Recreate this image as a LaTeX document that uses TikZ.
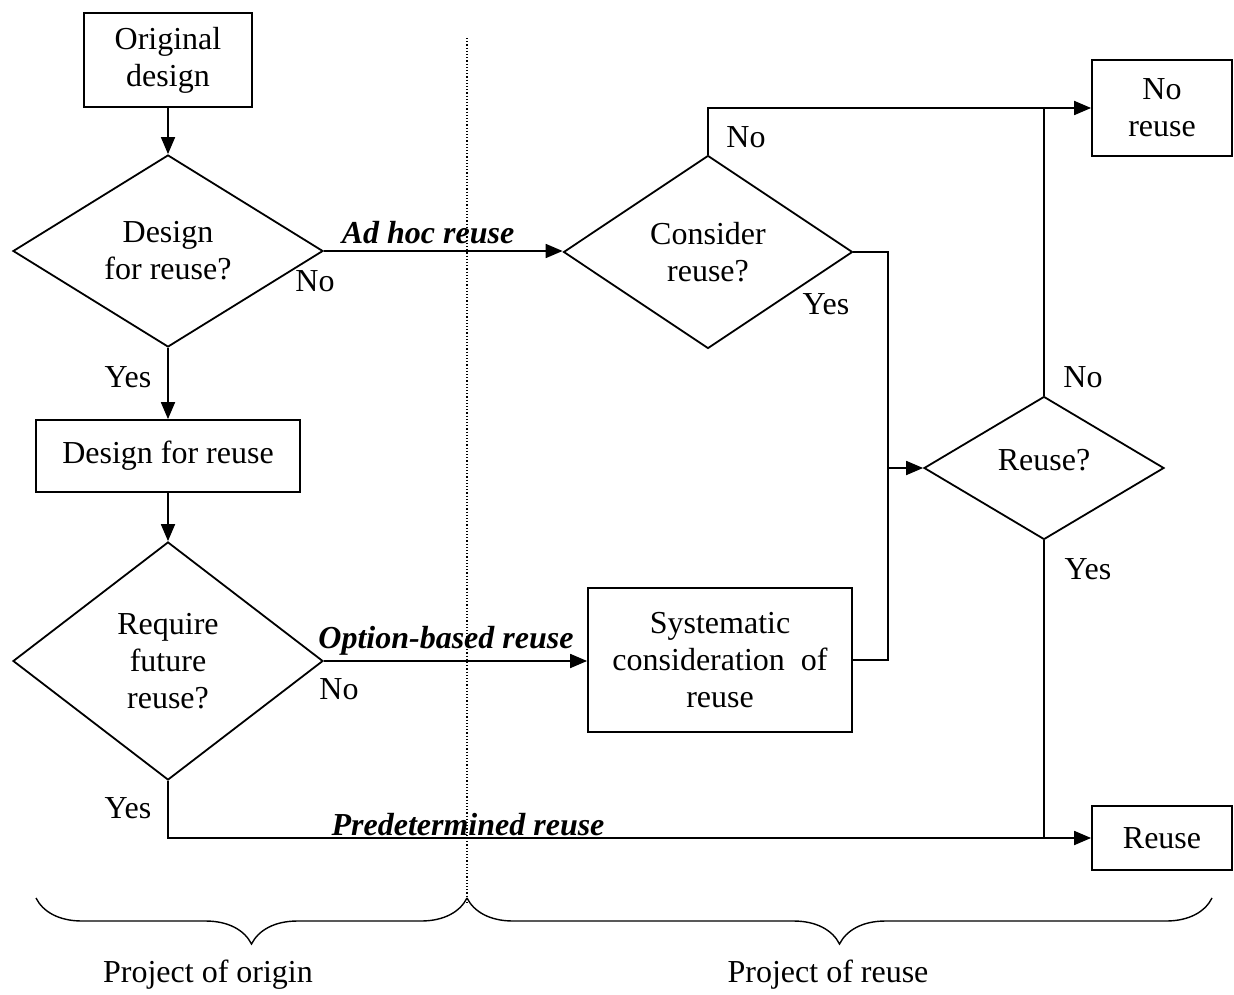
\documentclass[tikz,border=0pt]{standalone}
\usepackage{fontspec}
\setmainfont{Liberation Serif}
\usetikzlibrary{shapes.geometric,arrows.meta,decorations.pathreplacing}
\begin{document}
\begin{tikzpicture}[x=0.5pt,y=-0.5pt,
  font=\fontsize{16}{18.5}\selectfont,
  box/.style={draw,line width=0.9pt,rectangle,inner sep=0pt,align=center},
  dec/.style={draw,line width=0.9pt,diamond,inner sep=0pt,align=center},
  conn/.style={line width=0.9pt},
  arr/.style={conn,-{Triangle[length=8.5pt,width=7pt]}},
  lbl/.style={inner sep=0pt},
  flow/.style={lbl,font=\fontsize{16}{18}\selectfont\bfseries\itshape},
  brc/.style={line width=0.7pt,decorate,decoration={brace,amplitude=23pt,aspect=0.5}}]
\useasboundingbox[fill=white] (0,0) rectangle (1234,994);

% nodes
\node[box,minimum width=84pt,minimum height=47pt] (orig) at (168,60) {Original\\design};
\node[dec,minimum width=155pt,minimum height=96pt] (d1) at (168,251) {Design\\for reuse?};
\node[box,minimum width=132pt,minimum height=36pt] (dfr) at (168,456) {Design for reuse};
\node[dec,minimum width=155pt,minimum height=119pt] (d2) at (168,661) {Require\\future\\reuse?};
\node[dec,minimum width=144.5pt,minimum height=96.5pt] (cons) at (708,252) {Consider\\reuse?};
\node[box,minimum width=132pt,minimum height=72pt] (sys) at (720,660) {Systematic\\consideration\ \ of\\reuse};
\node[dec,minimum width=120pt,minimum height=71.5pt] (rq) at (1044,468) {\smash{\raisebox{-1pt}{Reuse?}}};
\node[box,minimum width=70pt,minimum height=48pt] (nor) at (1162,108) {No\\reuse};
\node[box,minimum width=70pt,minimum height=32pt] (reu) at (1162,838) {Reuse};

% separator
\coordinate (septop) at (467,38);
\coordinate (sepbot) at (467,905);
\draw[line width=0.6pt,densely dotted] (septop) -- (sepbot);

% connectors
\draw[arr] (orig) -- (d1);
\draw[arr] (d1) -- (dfr);
\draw[arr] (dfr) -- (d2);
\draw[arr] (d1.east) -- (d1.east -| cons.west);
\draw[arr] (d2.east) -- (d2.east -| sys.west);
\draw[arr] (d2.south) |- (reu.west);
\draw[arr] (cons.north) |- (nor.west);
\coordinate (j) at (888,468);
\draw[conn] (cons.east) -| (j);
\draw[conn] (sys.east) -| (j);
\draw[arr] (j) -- (rq.west);
\draw[conn] (rq.north) -- (rq.north |- nor.west);
\draw[conn] (rq.south) -- (rq.south |- reu.west);

% labels
\node[flow] (l1) at (428,233) {Ad hoc reuse};
\node[lbl] (n1) at (315,281) {No};
\node[lbl] (y1) at (128,377) {Yes};
\node[lbl] (n2) at (746,137) {No};
\node[lbl] (y2) at (826,304) {Yes};
\node[lbl] (n3) at (1083,377) {No};
\node[lbl] (y3) at (1088,569) {Yes};
\node[flow] (l2) at (446,641) {Option-based reuse};
\node[lbl] (n4) at (339,689) {No};
\node[lbl] (y4) at (128,808) {Yes};
\node[flow] (l3) at (468,825) {Predetermined reuse};

% braces
\coordinate (b1a) at (36,898);
\coordinate (b1b) at (467,898);
\coordinate (b2b) at (1212,898);
\draw[brc] (b1b) -- (b1a);
\draw[brc] (b2b) -- (b1b);
\node[lbl] (p1) at (208,975) {Project of origin};
\node[lbl] (p2) at (828,975) {Project of reuse};
\end{tikzpicture}
\end{document}
